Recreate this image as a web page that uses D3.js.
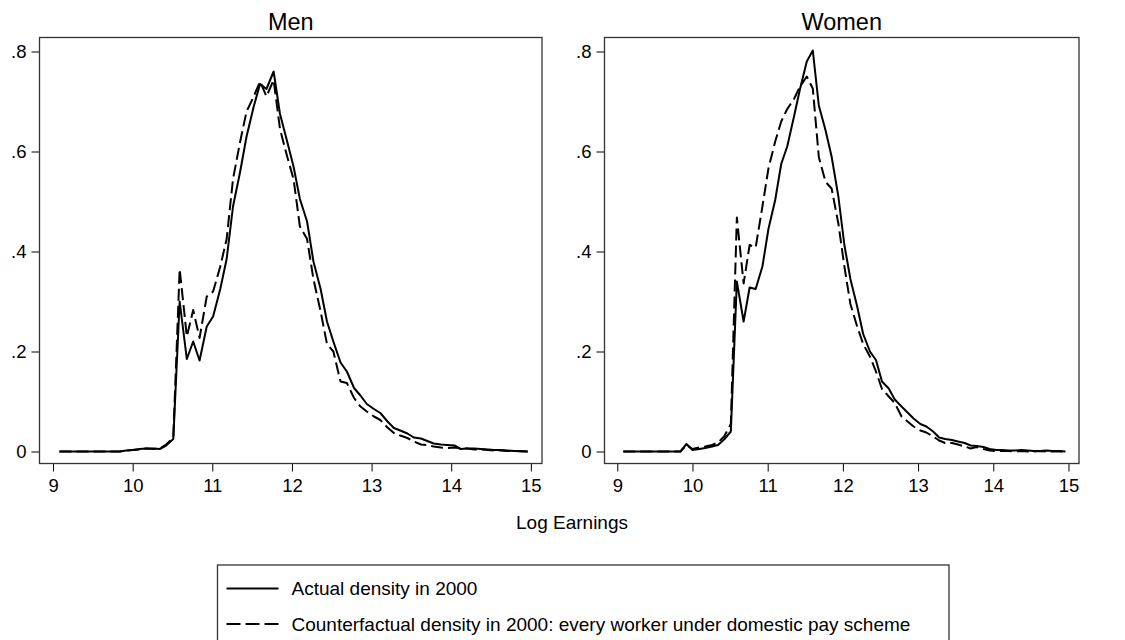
<!DOCTYPE html>
<html>
<head>
<meta charset="utf-8">
<script src="https://cdn.jsdelivr.net/npm/d3@7"></script>
<style>
  body { margin: 0; background: #fff; }
  svg { display: block; font-family: "Liberation Sans", Arial, sans-serif; }
  .axis path, .axis line { stroke: #000; }
  .axis text { font-family: "Liberation Sans", Arial, sans-serif; font-size: 18.5px; fill: #000; }
</style>
</head>
<body>
<div id="chart"></div>
<script>
// Evaluation grid of log earnings (shared by both panels)
const xGrid = [9.08, 9.16, 9.25, 9.33, 9.42, 9.50, 9.58, 9.67, 9.75, 9.84,
  9.92, 10.00, 10.09, 10.17, 10.26, 10.34, 10.42, 10.51, 10.59, 10.68,
  10.76, 10.84, 10.93, 11.01, 11.10, 11.18, 11.26, 11.35, 11.43, 11.52,
  11.60, 11.68, 11.77, 11.85, 11.94, 12.02, 12.10, 12.19, 12.27, 12.36,
  12.44, 12.52, 12.61, 12.69, 12.78, 12.86, 12.94, 13.03, 13.11, 13.20,
  13.28, 13.36, 13.45, 13.53, 13.62, 13.70, 13.78, 13.87, 13.95, 14.04,
  14.12, 14.20, 14.29, 14.37, 14.46, 14.54, 14.62, 14.71, 14.79, 14.88, 14.96];

// Men
const menActual = [0, 0, 0, 0, 0, 0, 0, 0, 0, 0,
  0.002, 0.003, 0.005, 0.006, 0.006, 0.005, 0.012, 0.025, 0.30, 0.185,
  0.22, 0.182, 0.25, 0.27, 0.325, 0.385, 0.49, 0.56, 0.63, 0.69,
  0.735, 0.725, 0.76, 0.675, 0.62, 0.57, 0.505, 0.46, 0.38, 0.325,
  0.26, 0.22, 0.178, 0.16, 0.127, 0.112, 0.095, 0.085, 0.077, 0.06,
  0.047, 0.042, 0.036, 0.028, 0.026, 0.021, 0.016, 0.014, 0.013, 0.012,
  0.005, 0.006, 0.006, 0.005, 0.004, 0.003, 0.003, 0.002, 0.001, 0.001, 0];
const menCounter = [0, 0, 0, 0, 0, 0, 0, 0, 0, 0,
  0.002, 0.003, 0.004, 0.006, 0.005, 0.006, 0.014, 0.028, 0.365, 0.23,
  0.283, 0.227, 0.31, 0.32, 0.37, 0.425, 0.545, 0.62, 0.68, 0.71,
  0.74, 0.71, 0.743, 0.645, 0.59, 0.545, 0.45, 0.425, 0.345, 0.28,
  0.215, 0.20, 0.14, 0.137, 0.107, 0.09, 0.08, 0.07, 0.063, 0.048,
  0.037, 0.032, 0.027, 0.02, 0.014, 0.013, 0.01, 0.008, 0.007, 0.008,
  0.006, 0.006, 0.004, 0.004, 0.003, 0.002, 0.002, 0.001, 0.001, 0, 0];

// Women
const womenActual = [0, 0, 0, 0, 0, 0, 0, 0, 0, 0,
  0.015, 0.003, 0.005, 0.007, 0.01, 0.013, 0.024, 0.04, 0.34, 0.26,
  0.328, 0.325, 0.37, 0.445, 0.503, 0.575, 0.61, 0.67, 0.725, 0.78,
  0.802, 0.692, 0.642, 0.59, 0.51, 0.413, 0.345, 0.29, 0.235, 0.20,
  0.183, 0.14, 0.126, 0.104, 0.09, 0.078, 0.066, 0.055, 0.05, 0.04,
  0.028, 0.025, 0.023, 0.02, 0.017, 0.012, 0.011, 0.009, 0.005, 0.003,
  0.003, 0.002, 0.002, 0.003, 0.002, 0.001, 0.001, 0.002, 0.001, 0.001, 0];
const womenCounter = [0, 0, 0, 0, 0, 0, 0, 0, 0, 0,
  0.013, 0.005, 0.008, 0.01, 0.013, 0.018, 0.03, 0.055, 0.468, 0.336,
  0.413, 0.408, 0.49, 0.566, 0.62, 0.66, 0.685, 0.705, 0.73, 0.75,
  0.726, 0.589, 0.539, 0.526, 0.456, 0.37, 0.295, 0.25, 0.215, 0.19,
  0.16, 0.125, 0.11, 0.097, 0.07, 0.06, 0.05, 0.042, 0.038, 0.03,
  0.022, 0.017, 0.017, 0.014, 0.01, 0.006, 0.009, 0.005, 0.002, 0.001,
  0.001, 0.001, 0, 0.001, 0, 0, 0.001, 0, 0, 0, 0];

const xTicks = [9, 10, 11, 12, 13, 14, 15];
const yTicks = [0, 0.2, 0.4, 0.6, 0.8];
const yTickLabels = ["0", ".2", ".4", ".6", ".8"];
const seriesNames = ["Actual density in 2000",
  "Counterfactual density in 2000: every worker under domestic pay scheme"];

const W = 1125, H = 640;
const dashPattern = "12,5";

const svg = d3.select("#chart").append("svg")
  .attr("width", W)
  .attr("height", H);

// Draw one panel inside a box (plot region in pixels)
function drawPanel(title, actual, counter, box) {
  const x = d3.scaleLinear().domain([8.83, 15.14]).range([box.left, box.right]);
  const y = d3.scaleLinear().domain([-0.024, 0.828]).range([box.bottom, box.top]);

  const g = svg.append("g");

  const line = d3.line()
    .x((d, i) => x(xGrid[i]))
    .y(d => y(d));

  g.append("path")
    .datum(counter)
    .attr("d", line)
    .attr("fill", "none")
    .attr("stroke", "#000")
    .attr("stroke-width", 2)
    .attr("stroke-dasharray", dashPattern)
    .attr("stroke-linejoin", "round");

  g.append("path")
    .datum(actual)
    .attr("d", line)
    .attr("fill", "none")
    .attr("stroke", "#000")
    .attr("stroke-width", 2)
    .attr("stroke-linejoin", "round");

  // x axis
  g.append("g")
    .attr("class", "axis")
    .attr("transform", `translate(0, ${box.bottom})`)
    .call(d3.axisBottom(x).tickValues(xTicks).tickSize(8).tickPadding(7).tickFormat(d3.format("d")))
    .call(a => a.select(".domain").remove());

  // y axis
  g.append("g")
    .attr("class", "axis")
    .attr("transform", `translate(${box.left}, 0)`)
    .call(d3.axisLeft(y).tickValues(yTicks).tickSize(8).tickPadding(5)
      .tickFormat((d, i) => yTickLabels[i]))
    .call(a => a.select(".domain").remove());

  // frame
  g.append("rect")
    .attr("x", box.left)
    .attr("y", box.top)
    .attr("width", box.right - box.left)
    .attr("height", box.bottom - box.top)
    .attr("fill", "none")
    .attr("stroke", "#333")
    .attr("stroke-width", 1.3);

  g.append("text")
    .attr("x", (box.left + box.right) / 2)
    .attr("y", 29.5)
    .attr("text-anchor", "middle")
    .attr("font-size", "23.5px")
    .text(title);
}

drawPanel("Men", menActual, menCounter, { left: 39.5, right: 542, top: 37.5, bottom: 463.5 });
drawPanel("Women", womenActual, womenCounter, { left: 604.5, right: 1079, top: 37.5, bottom: 463.5 });

// shared x axis title
svg.append("text")
  .attr("x", 572)
  .attr("y", 529)
  .attr("text-anchor", "middle")
  .attr("font-size", "19px")
  .text("Log Earnings");

// legend
const legend = svg.append("g");
legend.append("rect")
  .attr("x", 217.5)
  .attr("y", 565)
  .attr("width", 949 - 217.5)
  .attr("height", 90)
  .attr("fill", "none")
  .attr("stroke", "#333")
  .attr("stroke-width", 1.3);

const legendRows = legend.selectAll("g.row")
  .data(seriesNames)
  .enter()
  .append("g")
  .attr("class", "row")
  .attr("transform", (d, i) => `translate(0, ${588.5 + i * 35.5})`);

legendRows.append("line")
  .attr("x1", 226.5)
  .attr("x2", 278.5)
  .attr("stroke", "#000")
  .attr("stroke-width", 2)
  .attr("stroke-dasharray", (d, i) => i === 0 ? null : "14,5");

legendRows.append("text")
  .attr("x", 291.5)
  .attr("y", 6.5)
  .attr("font-size", "19px")
  .text(d => d);
</script>
</body>
</html>
